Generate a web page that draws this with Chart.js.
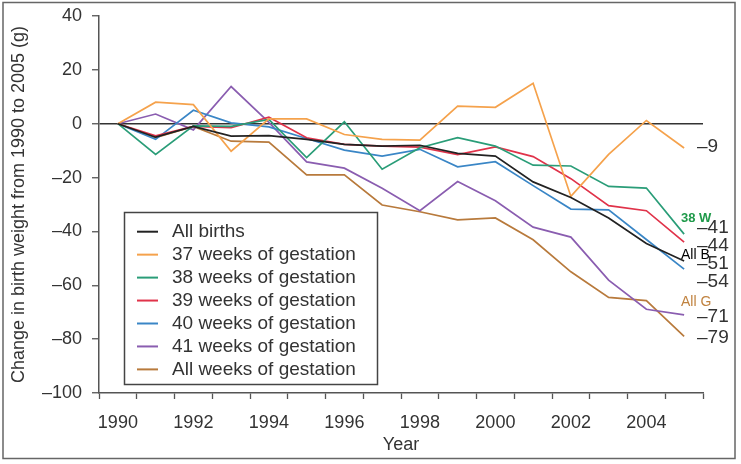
<!DOCTYPE html>
<html>
<head>
<meta charset="utf-8">
<script src="https://cdn.jsdelivr.net/npm/chart.js@4.4.1/dist/chart.umd.min.js"></script>
<style>
  html, body { margin: 0; padding: 0; background: #fff; }
  #wrap { width: 741px; height: 464px; position: relative; }
</style>
</head>
<body>
<div id="wrap"><canvas id="bwChart" width="741" height="464"></canvas></div>
<script>
// --- 数据 ---
const years = ['1990', '1991', '1992', '1993', '1994', '1995', '1996', '1997',
  '1998', '1999', '2000', '2001', '2002', '2003', '2004', '2005'];

const allBirths = [0, -5, -1, -4.6, -4.4, -5.8, -7.7, -8.3, -8, -11, -12, -21.6, -27.4, -35, -44.5, -51];
const weeks37 = [0, 8, 7.1, -10.2, 1.8, 1.8, -4, -5.8, -6.1, 6.5, 6.1, 15, -27, -11.4, 1.2, -9];
const weeks38 = [0, -11.4, -0.8, -1, 1.6, -12.6, 0.7, -16.9, -8.9, -5.2, -8.3, -15.4, -15.7, -23.3, -23.9, -41];
const weeks39 = [0, -4.5, -1, -1.5, 2.4, -5.2, -7.7, -8.3, -8.7, -11.5, -8.6, -12.2, -20.4, -30.4, -32.3, -44];
const weeks40 = [0, -5.8, 5, 0.3, -1.2, -5.5, -9.8, -12, -9.5, -16, -14.1, -23, -31.7, -32, -43, -54];
const weeks41 = [0, 3.6, -2.3, 13.8, 0.5, -14.2, -16.5, -24, -32.3, -21.5, -28.6, -38.4, -42.1, -58.1, -68.9, -71];
const allWeeks = [0, -5.2, -1, -6.5, -6.8, -19, -19, -30.2, -32.7, -35.7, -35, -43.1, -55, -64.5, -65.7, -79];

const seriesLabels = ['All births', '37 weeks of gestation', '38 weeks of gestation',
  '39 weeks of gestation', '40 weeks of gestation', '41 weeks of gestation', 'All weeks of gestation'];
const endLabels = ['\u20139', '\u201341', '\u201344', '\u201351', '\u201354', '\u201371', '\u201379'];
const shortLabels = ['38 W', 'All B', 'All G'];

const colors = ['#222222', '#f5a24c', '#2a9d78', '#e0334a', '#3a86c6', '#8a5db0', '#b87a3c'];
const FONT = "'Liberation Sans', Arial, sans-serif";

const makeSet = (i, data) => ({
  label: seriesLabels[i],
  data: data,
  borderColor: colors[i],
  backgroundColor: colors[i],
  borderWidth: 1.7,
  pointRadius: 0,
  tension: 0,
  fill: false
});

// --- 图例、右侧标注、外框 ---
const decorPlugin = {
  id: 'decor',
  afterDraw: (chart) => {
    const c = chart.ctx;
    c.save();

    // 外框
    c.strokeStyle = '#666';
    c.lineWidth = 1.5;
    c.strokeRect(3, 2.5, 732, 456);

    // 图例
    c.fillStyle = '#fff';
    c.fillRect(124.5, 212.5, 253, 172);
    c.strokeStyle = '#444';
    c.lineWidth = 1.5;
    c.strokeRect(124.5, 212.5, 253, 172);
    c.font = '19px ' + FONT;
    c.textBaseline = 'middle';
    c.textAlign = 'left';
    chart.data.datasets.forEach((ds, i) => {
      const y = 231.7 + i * 22.95;
      c.strokeStyle = ds.borderColor;
      c.lineWidth = 2;
      c.beginPath();
      c.moveTo(137, y);
      c.lineTo(158, y);
      c.stroke();
      c.fillStyle = '#333';
      c.fillText(ds.label, 172, y);
    });

    // 右侧数值
    const numY = [146.7, 228, 245.7, 264, 281.7, 316.7, 338];
    c.font = '19px ' + FONT;
    c.fillStyle = '#333';
    endLabels.forEach((t, i) => c.fillText(t, 697, numY[i]));

    // 缩写标注
    c.font = 'bold 13px ' + FONT;
    c.fillStyle = '#1f9a4a';
    c.fillText(shortLabels[0], 681, 218);
    c.font = '14px ' + FONT;
    c.fillStyle = '#000';
    c.fillText(shortLabels[1], 681, 255);
    c.fillStyle = '#c0823f';
    c.fillText(shortLabels[2], 681, 302);

    c.restore();
  }
};

const ctx = document.getElementById('bwChart').getContext('2d');
const bwChart = new Chart(ctx, {
  type: 'line',
  data: {
    labels: years,
    datasets: [
      makeSet(0, allBirths),
      makeSet(1, weeks37),
      makeSet(2, weeks38),
      makeSet(3, weeks39),
      makeSet(4, weeks40),
      makeSet(5, weeks41),
      makeSet(6, allWeeks)
    ]
  },
  options: {
    responsive: false,
    animation: false,
    layout: { padding: { top: 16, right: 38, left: 0, bottom: 0 } },
    plugins: {
      legend: { display: false },
      tooltip: { enabled: false }
    },
    scales: {
      x: {
        type: 'category',
        offset: true,
        grid: {
          offset: true,
          drawOnChartArea: false,
          tickLength: 6,
          tickColor: '#555',
          tickWidth: 1.3
        },
        border: { display: true, color: '#555', width: 1.5 },
        ticks: {
          autoSkip: false,
          maxRotation: 0,
          padding: 13,
          color: '#333',
          font: { family: FONT, size: 18 },
          callback: (v, i) => (i % 2 === 0 ? years[i] : '')
        },
        title: {
          display: true,
          text: 'Year',
          color: '#333',
          font: { family: FONT, size: 18 },
          padding: { top: 0, bottom: 8 }
        },
        afterFit: (scale) => { scale.height = 71; }
      },
      y: {
        min: -100,
        max: 40,
        ticks: {
          stepSize: 20,
          padding: 10,
          color: '#333',
          font: { family: FONT, size: 18 },
          callback: (v) => (v < 0 ? '\u2013' + Math.abs(v) : String(v))
        },
        grid: {
          color: (c) => (c.tick && c.tick.value === 0 ? '#333' : 'rgba(0,0,0,0)'),
          lineWidth: 1.5,
          tickLength: 7,
          tickColor: '#555',
          tickWidth: 1.3
        },
        border: { display: true, color: '#555', width: 1.5 },
        title: {
          display: true,
          text: 'Change in birth weight from 1990 to 2005 (g)',
          color: '#333',
          font: { family: FONT, size: 18 },
          padding: { top: 8, bottom: 0 }
        },
        afterFit: (scale) => {
          scale.width = 99;
          scale.paddingTop = 0;
          scale.paddingBottom = 0;
        }
      }
    }
  },
  plugins: [decorPlugin]
});
</script>
</body>
</html>
